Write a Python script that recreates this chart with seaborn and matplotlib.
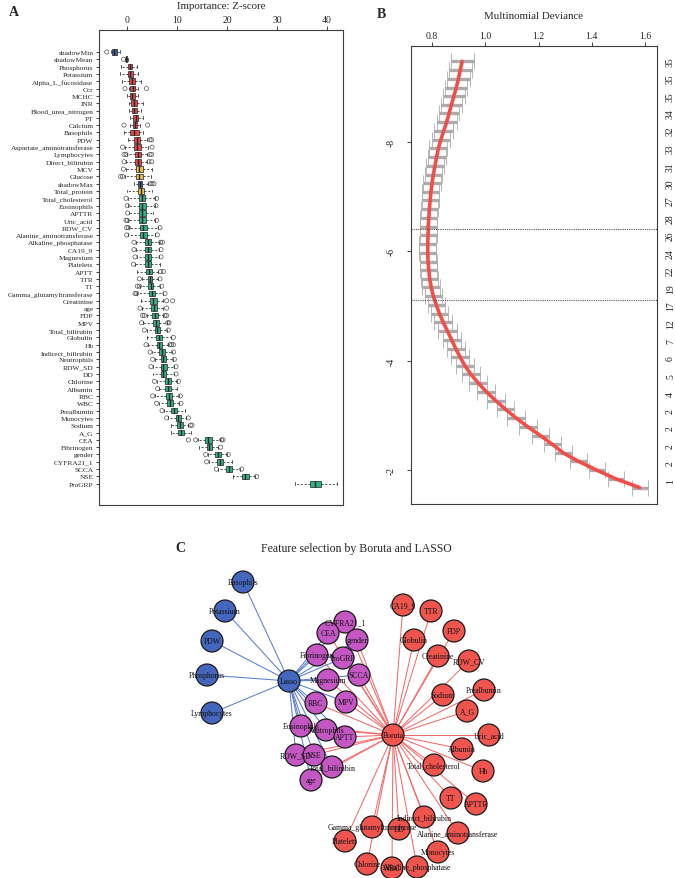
import numpy as np
import pandas as pd
import matplotlib.pyplot as plt
import matplotlib.transforms as mtrans
import seaborn as sns

# =========================================
# DATA - panel A (Boruta importance, Z-score)
# =========================================
features = [
    "shadowMin", "shadowMean", "Phosphorus", "Potassium", "Alpha_L_fucosidase",
    "Ccr", "MCHC", "INR", "Blood_urea_nitrogen", "PT", "Calcium", "Basophils",
    "PDW", "Aspartate_aminotransferase", "Lymphocytes", "Direct_bilirubin", "MCV",
    "Glucose", "shadowMax", "Total_protein", "Total_cholesterol", "Eosinophils",
    "APTTR", "Uric_acid", "RDW_CV", "Alanine_aminotransferase",
    "Alkaline_phosphatase", "CA19_9", "Magnesium", "Platelets", "APTT", "TTR",
    "TT", "Gamma_glutamyltransferase", "Creatinine", "age", "FDP", "MPV",
    "Total_bilirubin", "Globulin", "Hb", "Indirect_bilirubin", "Neutrophils",
    "RDW_SD", "DD", "Chlorine", "Albumin", "RBC", "WBC", "Prealbumin",
    "Monocytes", "Sodium", "A_G", "CEA", "Fibrinogen", "gender", "CYFRA21_1",
    "SCCA", "NSE", "ProGRP",
]
shadow_feats = ["shadowMin", "shadowMean", "shadowMax"]
tentative_feats = ["MCV", "Glucose", "Total_protein"]
rejected_feats = ["Phosphorus", "Potassium", "Alpha_L_fucosidase", "Ccr", "MCHC",
                  "INR", "Blood_urea_nitrogen", "PT", "Calcium", "Basophils", "PDW",
                  "Aspartate_aminotransferase", "Lymphocytes", "Direct_bilirubin"]

imp_med = [-2.6, -0.2, 0.6, 0.6, 1.0, 1.13, 1.07, 1.4, 1.47, 1.73, 1.53, 1.47,
           2.0, 2.07, 2.13, 2.13, 2.4, 2.47, 2.6, 2.73, 3.0, 3.07, 3.07, 3.07,
           3.27, 3.27, 4.2, 4.13, 4.27, 4.27, 4.33, 4.6, 4.73, 4.93, 5.27, 5.4,
           5.6, 5.87, 6.07, 6.4, 6.47, 7.0, 7.27, 7.27, 7.27, 8.27, 8.2, 8.33,
           8.6, 9.4, 10.27, 10.6, 10.8, 16.27, 16.47, 18.13, 18.67, 20.33, 23.67, 37.6]
imp_q1 = [-3.07, -0.3, 0.13, 0.1, 0.47, 0.67, 0.5, 0.87, 1.0, 1.27, 1.13, 0.67,
          1.47, 1.47, 1.6, 1.53, 1.8, 1.8, 2.13, 2.13, 2.4, 2.47, 2.47, 2.47,
          2.6, 2.67, 3.6, 3.6, 3.67, 3.67, 3.73, 4.13, 4.2, 4.33, 4.67, 4.8,
          5.07, 5.27, 5.6, 5.87, 5.93, 6.47, 6.73, 6.73, 6.73, 7.67, 7.6, 7.73,
          8.0, 8.87, 9.8, 10.07, 10.27, 15.6, 15.93, 17.6, 18.07, 19.73, 23.07, 36.6]
imp_q3 = [-2.07, -0.1, 1.07, 1.1, 1.53, 1.6, 1.67, 1.93, 2.0, 2.2, 2.0, 2.33,
          2.67, 2.8, 2.73, 2.87, 3.13, 3.13, 3.07, 3.4, 3.67, 3.73, 3.73, 3.8,
          3.93, 3.93, 4.8, 4.73, 4.87, 4.87, 4.93, 5.07, 5.27, 5.53, 5.93, 6.07,
          6.13, 6.47, 6.67, 7.0, 7.07, 7.53, 7.87, 7.93, 7.87, 8.8, 8.8, 8.93,
          9.2, 9.93, 10.8, 11.13, 11.4, 16.93, 17.07, 18.73, 19.27, 20.93, 24.33, 38.73]
imp_lo = [-3.3, -0.5, -1.27, -1.4, -1.07, 0.3, -0.07, 0.47, 0.47, 0.6, 0.6, -0.6,
          0.27, -0.4, -0.07, -0.2, -0.2, -0.4, 1.4, 0.07, 0.27, 0.27, 0.4, 0.27,
          0.47, 0.27, 1.8, 1.8, 1.93, 1.6, 1.93, 2.93, 2.6, 2.07, 2.73, 2.93,
          3.93, 3.27, 3.93, 4.07, 4.27, 4.93, 5.6, 5.27, 5.27, 5.93, 6.47, 5.6,
          6.47, 7.4, 8.27, 8.73, 8.8, 14.13, 14.47, 16.27, 16.47, 18.27, 21.27, 33.6]
imp_hi = [-1.4, 0.1, 1.93, 2.13, 2.8, 2.2, 2.27, 3.13, 2.8, 3.13, 2.6, 3.13,
          3.93, 4.27, 3.93, 3.93, 4.93, 4.73, 4.27, 4.93, 5.6, 5.6, 5.27, 5.6,
          6.27, 5.6, 6.47, 6.47, 6.47, 6.6, 6.27, 6.27, 6.6, 7.13, 7.27, 7.27,
          7.27, 7.93, 7.93, 8.73, 8.27, 8.93, 9.13, 9.4, 9.4, 9.93, 9.93, 10.47,
          10.47, 11.6, 11.8, 12.27, 12.8, 18.6, 18.27, 19.93, 20.93, 22.6, 25.6, 41.93]
imp_out = [[-4.07], [-0.7], [], [], [], [-0.4, 3.9], [], [], [], [], [-0.6, 4.13], [],
           [4.6, 4.9], [-0.87, 5.0], [-0.6, -0.2, 4.6, 4.93], [-0.6, 4.4, 4.93],
           [-0.73], [-1.27, -0.87], [4.6, 5.0, 5.4], [], [-0.2, 5.93], [0.07, 5.8],
           [0.13], [-0.2, 0.07, 5.93], [-0.07, 0.27, 6.6], [-0.07, 6.07],
           [1.4, 6.73, 7.07], [1.4, 6.8], [1.6, 6.8], [1.27], [6.73, 7.27],
           [2.47, 6.6], [2.07, 2.47, 6.93], [1.6, 1.93, 7.6], [7.93, 9.13],
           [2.6, 7.93], [3.13, 3.47, 7.6, 7.93], [2.93, 8.13, 8.4], [3.47, 8.27],
           [9.27], [3.8, 8.6, 8.93, 9.27], [4.6, 9.27], [5.13, 9.47], [4.8, 9.8],
           [9.8], [5.47, 10.27], [6.13], [5.13, 10.67], [5.93, 10.8], [7.0],
           [7.93, 12.27], [12.67, 13.0], [], [12.27, 13.73, 18.93, 19.2], [18.73],
           [15.73, 20.27], [15.93], [17.87, 22.93], [25.93], []]

# =========================================
# DATA - panel B (LASSO cross-validation)
# =========================================
log_lambda = [-9.47, -9.31, -9.15, -8.99, -8.83, -8.68, -8.52, -8.36, -8.20, -8.04,
              -7.88, -7.72, -7.56, -7.40, -7.24, -7.09, -6.93, -6.77, -6.61, -6.45,
              -6.29, -6.13, -5.97, -5.81, -5.66, -5.50, -5.34, -5.18, -5.02, -4.86,
              -4.70, -4.54, -4.38, -4.22, -4.07, -3.91, -3.75, -3.59, -3.43, -3.27,
              -3.11, -2.95, -2.79, -2.63, -2.47, -2.31, -2.16, -2.00, -1.84, -1.68]
deviance = [0.913, 0.906, 0.899, 0.891, 0.882, 0.873, 0.864, 0.855, 0.844, 0.833,
            0.824, 0.817, 0.811, 0.805, 0.800, 0.796, 0.793, 0.790, 0.788, 0.786,
            0.785, 0.784, 0.784, 0.785, 0.788, 0.791, 0.797, 0.805, 0.816, 0.828,
            0.842, 0.858, 0.874, 0.889, 0.905, 0.923, 0.946, 0.974, 1.004, 1.039,
            1.076, 1.116, 1.160, 1.207, 1.252, 1.294, 1.350, 1.418, 1.490, 1.580]
dev_se = [0.043, 0.043, 0.042, 0.041, 0.040, 0.039, 0.038, 0.037, 0.036, 0.035,
          0.034, 0.034, 0.033, 0.033, 0.033, 0.032, 0.032, 0.032, 0.032, 0.032,
          0.032, 0.032, 0.032, 0.032, 0.032, 0.032, 0.033, 0.033, 0.033, 0.033,
          0.034, 0.034, 0.034, 0.034, 0.034, 0.034, 0.034, 0.034, 0.034, 0.034,
          0.033, 0.033, 0.033, 0.032, 0.032, 0.031, 0.031, 0.030, 0.030, 0.030]
lambda_min = -6.41
lambda_1se = -5.11
nonzero = [35, 35, 35, 34, 32, 33, 31, 30, 27, 28, 26, 24, 22, 19, 17, 12, 7, 6,
           5, 4, 2, 2, 2, 2, 1]

# =========================================
# DATA - panel C (network of selected features)
# =========================================
lasso_only = ["Basophils", "Potassium", "PDW", "Phosphorus", "Lymphocytes"]
shared = ["CYFRA21_1", "CEA", "gender", "Fibrinogen", "ProGRP", "SCCA", "Magnesium",
          "RBC", "MPV", "Eosinophils", "Neutrophils", "APTT", "RDW_SD", "NSE",
          "Total_bilirubin", "age"]
boruta_only = ["CA19_9", "TTR", "FDP", "Globulin", "Creatinine", "RDW_CV", "Sodium",
               "Prealbumin", "A_G", "Uric_acid", "Albumin", "Total_cholesterol", "Hb",
               "TT", "APTTR", "Indirect_bilirubin", "Alanine_aminotransferase",
               "Gamma_glutamyltransferase", "DD", "Platelets", "Monocytes",
               "Chlorine", "WBC", "Alkaline_phosphatase"]
# layout positions of the graph (pixel space of the panel)
hub_xy = {"Lasso": (289, 682), "Boruta": (393, 736)}
node_xy = {
    "Basophils": (243, 583), "Potassium": (225, 612), "PDW": (212, 642),
    "Phosphorus": (207, 676), "Lymphocytes": (212, 714),
    "CYFRA21_1": (345, 623), "CEA": (328, 634), "gender": (357, 641),
    "Fibrinogen": (317, 656), "ProGRP": (343, 659), "SCCA": (359, 676),
    "Magnesium": (328, 681), "RBC": (316, 704), "MPV": (346, 703),
    "Eosinophils": (301, 727), "Neutrophils": (326, 731), "APTT": (345, 738),
    "RDW_SD": (296, 756), "NSE": (314, 756), "Total_bilirubin": (332, 768),
    "age": (311, 781),
    "CA19_9": (403, 606), "TTR": (431, 612), "FDP": (454, 632), "Globulin": (414, 641),
    "Creatinine": (438, 657), "RDW_CV": (469, 662), "Sodium": (443, 696),
    "Prealbumin": (484, 691), "A_G": (467, 712), "Uric_acid": (489, 736),
    "Albumin": (462, 750), "Total_cholesterol": (434, 766), "Hb": (483, 772),
    "TT": (451, 799), "APTTR": (476, 805), "Indirect_bilirubin": (424, 818),
    "Alanine_aminotransferase": (458, 834), "Gamma_glutamyltransferase": (372, 828),
    "DD": (399, 830), "Platelets": (345, 842), "Monocytes": (438, 853),
    "Chlorine": (367, 865), "WBC": (392, 869), "Alkaline_phosphatase": (417, 868),
}

# =========================================
# STYLE
# =========================================
sns.set_theme(style="white")
plt.rcParams['font.family'] = ['Liberation Serif', 'DejaVu Serif']
W, H = 675, 879
status_colors = {"shadow": "#3F5FAD", "rejected": "#E8474A",
                 "tentative": "#F2C33F", "confirmed": "#2FB289"}
edge_col = "#3a3a3a"

fig = plt.figure(figsize=(W / 100, H / 100), dpi=100)


def box(l, t, r, b):
    return [l / W, 1 - b / H, (r - l) / W, (b - t) / H]


def style_frame(ax):
    for sp in ax.spines.values():
        sp.set_color("#3c3c3c")
        sp.set_linewidth(0.8)
        sp.set_visible(True)


# =========================================
# PANEL A
# =========================================
axA = fig.add_axes(box(99, 31, 343, 506))
status = []
for f in features:
    if f in shadow_feats:
        status.append("shadow")
    elif f in tentative_feats:
        status.append("tentative")
    elif f in rejected_feats:
        status.append("rejected")
    else:
        status.append("confirmed")

stats = [dict(med=m, q1=a, q3=b, whislo=lo, whishi=hi, fliers=[], label=f)
         for f, m, a, b, lo, hi in zip(features, imp_med, imp_q1, imp_q3, imp_lo, imp_hi)]
bp = axA.bxp(stats, positions=np.arange(len(features)), widths=0.78,
             orientation="horizontal", patch_artist=True, showfliers=False,
             boxprops=dict(linewidth=0.6, edgecolor=edge_col),
             whiskerprops=dict(linestyle=(0, (2.5, 2)), linewidth=0.6, color=edge_col),
             capprops=dict(linewidth=0.6, color=edge_col), capwidths=0.4,
             medianprops=dict(color="#222222", linewidth=1.0))
for patch, st in zip(bp["boxes"], status):
    patch.set_facecolor(status_colors[st])

fliers = pd.DataFrame([(i, v) for i, vals in enumerate(imp_out) for v in vals],
                      columns=["row", "value"])
sns.scatterplot(data=fliers, x="value", y="row", ax=axA, marker="o", s=9,
                facecolor="none", edgecolor="#555555", linewidth=0.5, legend=False)

axA.set_ylim(61.9, -3.0)
axA.set_xlim(-5.6, 43.2)
axA.set_yticks(np.arange(len(features)))
axA.set_yticklabels(features, fontsize=5.3)
axA.xaxis.tick_top()
axA.xaxis.set_label_position("top")
axA.set_xticks([0, 10, 20, 30, 40])
axA.tick_params(axis="x", labelsize=7, length=3, width=0.6, pad=1.5, top=True, bottom=False)
axA.tick_params(axis="y", length=2.5, width=0.6, pad=1.5, left=True)
axA.set_xlabel("Importance: Z-score", fontsize=7.8, labelpad=5)
axA.set_ylabel("")
style_frame(axA)
fig.text(14 / W, 1 - 13 / H, "A", fontsize=10, fontweight="bold", ha="center", va="center")

# =========================================
# PANEL B
# =========================================
axB = fig.add_axes(box(411, 47, 657, 505))
axB.errorbar(deviance, log_lambda, xerr=dev_se, fmt="none", ecolor="#ACACAC",
             elinewidth=2.4, capsize=6, capthick=0.6, zorder=1)
sns.lineplot(x=deviance, y=log_lambda, sort=False, estimator=None, orient="y",
             color="#F24D49", linewidth=2.6, ax=axB, zorder=2)
for v in (lambda_min, lambda_1se):
    axB.axhline(v, color="#555555", linestyle=(0, (1, 1)), linewidth=0.8)
axB.set_xlim(0.721, 1.645)
axB.set_ylim(-1.38, -9.75)
axB.xaxis.tick_top()
axB.xaxis.set_label_position("top")
axB.set_xticks([0.8, 1.0, 1.2, 1.4, 1.6])
axB.set_xticklabels(["0.8", "1.0", "1.2", "1.4", "1.6"])
axB.set_yticks([-8, -6, -4, -2])
axB.set_yticklabels(["-8", "-6", "-4", "-2"], rotation=90, va="center")
axB.tick_params(axis="x", labelsize=7, length=3, width=0.6, pad=1.5, top=True, bottom=False)
axB.tick_params(axis="y", labelsize=7, length=3, width=0.6, pad=8, left=True)
axB.set_xlabel("Multinomial Deviance", fontsize=7.8, labelpad=9)
axB.set_ylabel("")
style_frame(axB)
trans = mtrans.blended_transform_factory(axB.transAxes, axB.transData)
nz_pos = np.linspace(-9.48, -1.81, len(nonzero))
for p, n in zip(nz_pos, nonzero):
    axB.text(1.055, p, str(n), transform=trans, rotation=90, fontsize=7,
             ha="center", va="center", color="#222222")
fig.text(381 / W, 1 - 14 / H, "B", fontsize=10, fontweight="bold", ha="center", va="center")

# =========================================
# PANEL C
# =========================================
axC = fig.add_axes([0, 0, 1, (H - 560) / H])
axC.set_xlim(0, W)
axC.set_ylim(H, 560)
axC.axis("off")

rows = [(k, "lasso") for k in lasso_only] + [(k, "shared") for k in shared] + \
       [(k, "boruta") for k in boruta_only]
nodes = pd.DataFrame(rows, columns=["name", "group"])
nodes["x"] = [node_xy[k][0] for k in nodes["name"]]
nodes["y"] = [node_xy[k][1] for k in nodes["name"]]
hubs = pd.DataFrame({"name": ["Lasso", "Boruta"], "group": ["lasso", "boruta"],
                     "x": [hub_xy["Lasso"][0], hub_xy["Boruta"][0]],
                     "y": [hub_xy["Lasso"][1], hub_xy["Boruta"][1]]})
all_nodes = pd.concat([hubs, nodes], ignore_index=True)

for _, r in nodes.iterrows():
    if r["group"] in ("lasso", "shared"):
        hx, hy = hub_xy["Lasso"]
        axC.plot([hx, r["x"]], [hy, r["y"]], color="#5B7DD1", linewidth=0.75, zorder=1)
    if r["group"] in ("boruta", "shared"):
        hx, hy = hub_xy["Boruta"]
        axC.plot([hx, r["x"]], [hy, r["y"]], color="#F36A6A", linewidth=0.75, zorder=1)

node_pal = {"lasso": "#4467BD", "shared": "#C457C4", "boruta": "#F0544F"}
sns.scatterplot(data=all_nodes, x="x", y="y", hue="group", palette=node_pal, s=250,
                edgecolor="#1a1a1a", linewidth=0.9, legend=False, ax=axC, zorder=3)
for _, r in all_nodes.iterrows():
    axC.text(r["x"], r["y"], r["name"], fontsize=5.6, ha="center", va="center",
             color="#111111", zorder=4)
axC.set_xlabel("")
axC.set_ylabel("")

fig.text(356 / W, 1 - 549 / H, "Feature selection by Boruta and LASSO", fontsize=8.5,
         ha="center", va="center")
fig.text(180 / W, 1 - 549 / H, "C", fontsize=10, fontweight="bold", ha="center", va="center")

fig.savefig("out.png", dpi=100)
